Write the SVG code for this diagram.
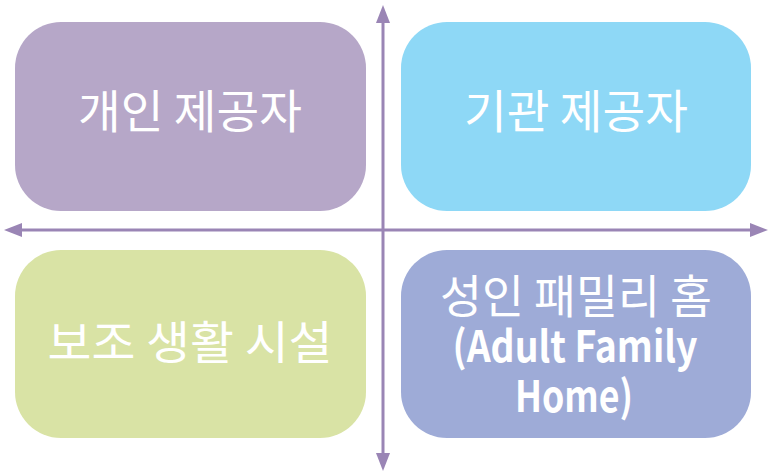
<svg xmlns="http://www.w3.org/2000/svg" width="768" height="472" viewBox="0 0 768 472">
<style>
.box{stroke:none}
.t{font-family:"Noto Sans CJK KR","Noto Sans",sans-serif;font-size:46px;font-weight:400;fill:#ffffff;text-anchor:middle}
.l{font-family:"Noto Sans CJK KR","Noto Sans",sans-serif;font-size:43px;font-weight:bold;fill:#ffffff;text-anchor:middle}
.ax{stroke:#9a85b5;stroke-width:3;fill:none}
</style>
<defs>
<marker id="ah" viewBox="0 0 18 14" refX="0" refY="7" markerWidth="18" markerHeight="14" markerUnits="userSpaceOnUse" orient="auto-start-reverse">
<path d="M0,0 L18,7 L0,14 Z" fill="#9a85b5"/>
</marker>
</defs>
<g id="node-individual">
<rect class="box" x="15" y="22" width="351" height="189" rx="46" ry="46" fill="#b6a7c8"/>
<text class="t" x="190" y="128" textLength="224" lengthAdjust="spacingAndGlyphs">개인 제공자</text>
</g>
<g id="node-institution">
<rect class="box" x="401" y="22" width="350" height="189" rx="46" ry="46" fill="#8ed8f6"/>
<text class="t" x="576" y="128" textLength="224" lengthAdjust="spacingAndGlyphs">기관 제공자</text>
</g>
<g id="node-assisted">
<rect class="box" x="15" y="250" width="351" height="188" rx="46" ry="46" fill="#d9e3a5"/>
<text class="t" x="190" y="359" textLength="285" lengthAdjust="spacingAndGlyphs">보조 생활 시설</text>
</g>
<g id="node-afh">
<rect class="box" x="401" y="250" width="350" height="188" rx="46" ry="46" fill="#9eabd7"/>
<text class="t" x="576" y="313" textLength="272" lengthAdjust="spacingAndGlyphs">성인 패밀리 홈</text>
<text class="l" x="575" y="362" textLength="245" lengthAdjust="spacingAndGlyphs">(Adult Family</text>
<text class="l" x="574" y="412" textLength="118" lengthAdjust="spacingAndGlyphs">Home)</text>
</g>
<g id="connectors">
<line class="ax" x1="383" y1="23" x2="383" y2="453" marker-start="url(#ah)" marker-end="url(#ah)"/>
<line class="ax" x1="22" y1="230" x2="750" y2="230" marker-start="url(#ah)" marker-end="url(#ah)"/>
</g>
</svg>
